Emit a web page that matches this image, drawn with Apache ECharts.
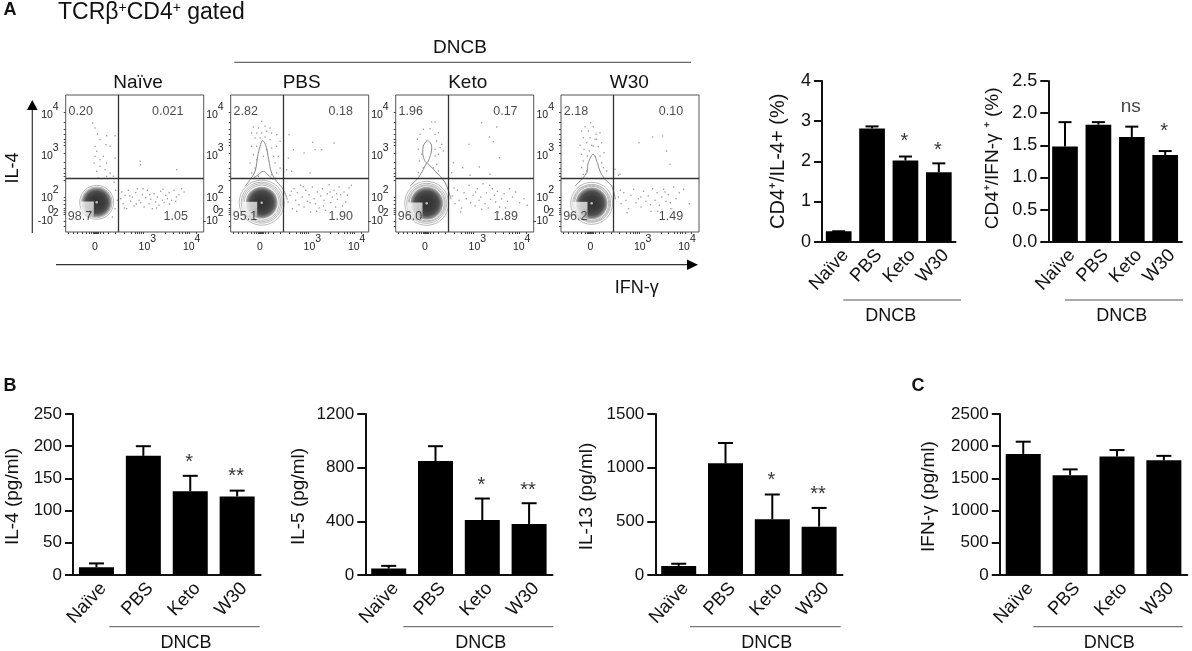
<!DOCTYPE html>
<html><head><meta charset="utf-8">
<style>html,body{margin:0;padding:0;background:#fff}#c{width:1192px;height:651px}</style>
<script src="https://cdn.jsdelivr.net/npm/echarts@6/dist/echarts.min.js"></script>
</head><body><div id="c"></div>
<script>
// ---------- bar data ----------
const categories = ['Naïve','PBS','Keto','W30'];
const il4PctMean = [0.26,2.82,2.02,1.73];
const il4PctUpper = [0.26,2.87,2.12,1.95];
const ifnPctMean = [1.48,1.82,1.63,1.35];
const ifnPctUpper = [1.86,1.86,1.79,1.41];
const il4Mean = [12,185,130,122];
const il4Upper = [18,200,154,131];
const il5Mean = [48,850,410,380];
const il5Upper = [68,960,570,535];
const il13Mean = [85,1040,520,450];
const il13Upper = [105,1230,750,625];
const ifnMean = [1880,1550,1840,1780];
const ifnUpper = [2070,1640,1940,1850];
// significance marks: [category index, height on value axis, text]
const il4PctMarks = [[2,2.59,'*'],[3,2.35,'*']];
const ifnPctMarks = [[2,2.10,'ns'],[3,1.77,'*']];
const il4Marks = [[2,180,'*'],[3,159,'**']];
const il5Marks = [[2,695,'*'],[3,658,'**']];
const il13Marks = [[2,916,'*'],[3,785,'**']];

// ---------- flow cytometry data, in display channels ----------
const flowPanels = ['Naïve','PBS','Keto','W30'];
const naiveQuadrants = ['0.20','0.021','1.05','98.7'];
const pbsQuadrants = ['2.82','0.18','1.90','95.1'];
const ketoQuadrants = ['1.96','0.17','1.89','96.0'];
const w30Quadrants = ['2.18','0.10','1.49','96.2'];
const gateX = 157, gateY = 161;
const naiveDots = [[81,327],[88,312],[95,294],[123,289],[148,289],[103,277],[121,262],[88,257],[133,257],[93,242],[88,227],[113,227],[103,217],[85,207],[123,207],[148,222],[103,197],[118,187],[93,182],[133,177],[123,167],[143,167],[98,162],[223,212],[225,202],[333,187],[165,100],[172,85],[178,110],[183,70],[188,125],[195,92],[200,105],[205,78],[210,118],[215,130],[220,95],[225,88],[230,112],[235,75],[240,103],[245,125],[250,85],[255,98],[260,70],[265,115],[270,90],[275,105],[280,80],[285,122],[290,95],[295,88],[300,110],[305,100],[310,118],[318,95],[325,125],[332,105],[340,112],[348,130],[355,120],[168,120],[176,72],[192,108],[212,84],[232,130],[252,112],[272,72],[292,128],[312,84],[330,92],[150,125],[155,95],[148,70],[140,45],[145,150]];
const pbsDots = [[93,332],[68,315],[83,312],[103,317],[118,312],[63,297],[78,297],[93,297],[108,302],[123,297],[138,292],[73,282],[88,282],[103,285],[118,277],[148,272],[63,257],[78,257],[123,252],[138,257],[68,232],[78,217],[128,227],[143,227],[58,207],[73,192],[133,207],[148,192],[63,177],[138,177],[123,172],[83,167],[108,247],[98,227],[175,292],[188,247],[173,222],[220,237],[246,269],[310,267],[253,247],[273,247],[183,182],[238,177],[168,187],[172,90],[178,110],[185,70],[190,130],[195,95],[200,118],[205,82],[210,140],[215,105],[220,75],[225,125],[230,92],[235,112],[240,60],[245,135],[250,100],[255,85],[260,120],[265,72],[270,108],[275,130],[280,95],[285,65],[290,115],[295,142],[300,88],[305,105],[310,125],[315,75],[320,98],[325,135],[330,112],[340,120],[345,90],[355,132],[362,140],[182,122],[198,62],[218,136],[238,88],[258,62],[278,78],[298,120],[318,115],[335,78],[350,110]];
const ketoDots = [[108,330],[118,330],[83,308],[103,310],[73,293],[118,293],[128,298],[65,278],[123,273],[138,263],[68,248],[118,248],[133,253],[78,233],[118,228],[128,233],[71,213],[123,203],[83,193],[113,193],[68,178],[128,183],[143,243],[258,328],[303,315],[281,285],[220,263],[293,271],[311,223],[173,208],[201,193],[251,195],[168,178],[283,173],[223,170],[170,108],[178,85],[185,125],[190,95],[198,72],[205,118],[212,100],[220,140],[225,88],[232,110],[238,78],[245,130],[250,95],[255,105],[262,145],[268,85],[272,118],[278,72],[285,98],[290,130],[296,110],[300,90],[305,122],[312,75],[318,100],[325,115],[335,92],[342,130],[350,105],[360,120],[372,88],[385,100],[395,80],[175,132],[195,60],[240,120],[258,68],[282,140],[308,60],[330,72]];
const w30Dots = [[89,328],[72,316],[97,316],[62,303],[82,303],[105,293],[117,298],[67,283],[87,283],[102,278],[122,268],[77,268],[57,260],[92,260],[112,256],[69,248],[85,243],[129,238],[62,233],[79,228],[117,228],[122,208],[67,213],[62,193],[127,193],[77,183],[137,183],[67,173],[107,278],[97,258],[234,268],[275,285],[305,288],[317,243],[327,203],[172,170],[177,173],[162,188],[172,105],[180,85],[188,118],[195,95],[203,70],[210,110],[218,128],[225,88],[232,100],[240,75],[248,122],[255,92],[262,108],[270,62],[275,130],[282,95],[288,118],[295,80],[302,105],[308,128],[315,92],[322,112],[330,70],[338,135],[345,100],[355,118],[368,128],[385,85],[178,125],[198,58],[240,105],[268,82],[290,62],[312,120],[328,88]];
const naiveContours = [];
const pbsContours = [
 [[43,137],[58,157],[73,182],[81,227],[88,257],[96,274],[106,257],[114,217],[123,177],[138,152],[158,127],[170,97]],
 [[68,162],[83,172],[98,182],[111,172],[128,157]]];
const ketoContours = [
 [[95,276],[83,258],[81,238],[93,208],[105,233],[108,258],[95,276]],
 [[43,138],[68,163],[88,198],[93,208]],
 [[93,208],[118,183],[148,148],[166,98]]];
const w30Contours = [
 [[42,138],[57,153],[77,178],[82,208],[97,233],[109,208],[117,183],[132,158],[152,138],[163,98]]];
// centre of the dense population and its cut-away quadrant, in channels
const naiveCore = [93,89], pbsCore = [93,88], ketoCore = [93,86], w30Core = [92,86];
const naiveCut = [65,69], pbsCut = [57,68], ketoCut = [58,66], w30Cut = [57,68];

// tick positions on the channel scale
const xTickChannels = [8,22,36,50,62,72,78,82,85,88,91,94,98,104,114,128,150,176,196,208,216,222,228,234,300,322,340,350,358,364,372,392];
const yTickChannels = [360,330,308,292,278,268,260,236,210,190,176,166,156,105,96,84,72,66,60,52,33,18];
const xLabelChannels = {88:'{z|0}',245:'{b|10}{s|3}',378:'{b|10}{s|4}'};
const yLabelChannels = {353:'{b|10}{s|4}',231:'{b|10}{s|3}',106:'{b|10}{s|2}',36:'{b|-10}{s|2}'};

const ink = '#111';
const font = 'Liberation Sans';
const grid = [], xAxis = [], yAxis = [], series = [], graphic = [];

function text(str, x, y, size, extra) {
  graphic.push({type:'text', silent:true, x, y, style:Object.assign({text:str, fill:ink, font:`${size}px "${font}"`, align:'center', verticalAlign:'middle'}, extra||{})});
}
function rule(x1,x2,y,color,w){
  graphic.push({type:'line', silent:true, shape:{x1,y1:y,x2,y2:y}, style:{stroke:color,lineWidth:w}});
}

function barPanel(o){
  const idx = grid.length;
  grid.push({left:o.left, width:o.width, top:o.top, height:o.height, containLabel:false});
  xAxis.push({type:'category', gridIndex:idx, data:categories, boundaryGap:true,
    axisLine:{lineStyle:{color:ink,width:2}}, axisTick:{alignWithLabel:true,length:6,lineStyle:{color:ink,width:2}},
    axisLabel:{rotate:47, interval:0, margin:4, verticalAlign:'top', align:'right', color:ink, fontFamily:font, fontSize:18.5}, splitLine:{show:false}});
  yAxis.push({type:'value', gridIndex:idx, min:0, max:o.max, interval:o.interval,
    name:o.name, nameLocation:'middle', nameGap:o.nameGap, nameTextStyle:{color:ink,fontFamily:font,fontSize:o.nameFont||19,padding:o.namePad||[0,4,0,0]},
    axisLine:{show:true,onZero:false,lineStyle:{color:ink,width:2}}, axisTick:{show:true,length:8,lineStyle:{color:ink,width:2}},
    axisLabel:{margin:11,color:ink,fontFamily:font,fontSize:o.yFont||17,formatter:o.fmt||(v=>String(v))}, splitLine:{show:false}});
  series.push({type:'bar', xAxisIndex:idx, yAxisIndex:idx, data:o.mean, barWidth:o.barW, itemStyle:{color:'#000'}, silent:true, z:3});
  series.push({type:'custom', xAxisIndex:idx, yAxisIndex:idx, silent:true, z:2, clip:false,
    data:o.mean.map((m,i)=>[i,m,o.upper[i]]), encode:{x:0,y:2},
    renderItem(p,api){
      const i=api.value(0), a=api.coord([i,api.value(1)]), b=api.coord([i,api.value(2)]);
      const st={stroke:'#000',lineWidth:2};
      return {type:'group',children:[
        {type:'line',shape:{x1:a[0],y1:a[1],x2:b[0],y2:b[1]},style:st},
        {type:'line',shape:{x1:b[0]-o.cap/2,y1:b[1],x2:b[0]+o.cap/2,y2:b[1]},style:st}]};
    }});
  if(o.marks) series.push({type:'scatter', xAxisIndex:idx, yAxisIndex:idx, silent:true, symbolSize:1, itemStyle:{color:'transparent'},
    data:o.marks, z:5,
    label:{show:true, position:'inside', formatter:p=>(p.data[2]==='ns'?'{n|ns}':'{t|'+p.data[2]+'}'), color:ink, fontFamily:font,
      rich:{n:{fontSize:19,fontFamily:font,color:ink},t:{fontSize:20,fontFamily:font,color:'#000',padding:[7,0,0,0]}}, offset:[-1,0]}});
  rule(o.brX1,o.brX2,o.brY,'#555',1);
  text('DNCB',o.brText,o.brY+16,18);
}

const flowLefts = [65.7,230.7,395.7,561];
const flowTitles = [138,301.7,467.7,629.3];
const flowSets = [
 {dots:naiveDots,q:naiveQuadrants,cont:naiveContours,core:naiveCore,cut:naiveCut,cutW:13,rings:[34,31],blob:30,urX:306},
 {dots:pbsDots,q:pbsQuadrants,cont:pbsContours,core:pbsCore,cut:pbsCut,cutW:15,rings:[45,41,38,35],blob:32,urX:330},
 {dots:ketoDots,q:ketoQuadrants,cont:ketoContours,core:ketoCore,cut:ketoCut,cutW:15,rings:[44,40,37,35],blob:33,urX:329},
 {dots:w30Dots,q:w30Quadrants,cont:w30Contours,core:w30Core,cut:w30Cut,cutW:15,rings:[42,38,36,34],blob:32,urX:330}];

flowSets.forEach((f,k)=>{
  const idx = grid.length;
  grid.push({left:flowLefts[k], width:138, top:95, height:137, show:true, borderColor:'#555', borderWidth:1, backgroundColor:'#fff'});
  const tick = {fontSize:10.5,fontFamily:font,color:'#222',verticalAlign:'bottom',lineHeight:13};
  const rich = {b:tick, s:Object.assign({},tick,{padding:[0,0,8,0]}), z:Object.assign({},tick,{padding:[8,0,0,0]})};
  xAxis.push({type:'value', gridIndex:idx, min:0, max:414, position:'bottom', splitLine:{show:false},
    axisLine:{show:false}, axisTick:{show:true,length:2,customValues:xTickChannels,lineStyle:{color:'#444',width:1}},
    axisLabel:{show:true,margin:8,showMinLabel:true,showMaxLabel:true,customValues:Object.keys(xLabelChannels).map(Number),formatter:v=>xLabelChannels[v],rich}});
  yAxis.push({type:'value', gridIndex:idx, min:0, max:411, position:'left', splitLine:{show:false},
    axisLine:{show:false}, axisTick:{show:true,length:2,customValues:yTickChannels,lineStyle:{color:'#444',width:1}},
    axisLabel:{show:true,margin:7,showMinLabel:true,showMaxLabel:true,customValues:Object.keys(yLabelChannels).map(Number),formatter:v=>yLabelChannels[v],rich}});
  const base={xAxisIndex:idx,yAxisIndex:idx,silent:true};
  series.push(Object.assign({},base,{type:'scatter',symbolSize:1.5,itemStyle:{color:'#777'},data:f.dots,z:2,
    markLine:{silent:true,symbol:'none',label:{show:false},lineStyle:{color:'#333',type:'solid',width:1.3},
      data:[{xAxis:gateX},{yAxis:gateY}],z:6}}));
  f.cont.forEach(c=>series.push(Object.assign({},base,{type:'line',data:c,smooth:0.4,showSymbol:false,
    lineStyle:{color:'#888',width:1},z:3})));
  f.rings.forEach((r,i)=>series.push(Object.assign({},base,{type:'scatter',data:[f.core],symbolSize:r,
    itemStyle:{color:'#fff',borderColor:'#999',borderWidth:0.7,opacity:1},z:3})));
  series.push(Object.assign({},base,{type:'scatter',data:[f.core],symbolSize:f.blob,z:4,
    itemStyle:{color:{type:'radial',x:.5,y:.5,r:.5,colorStops:[
      {offset:0,color:'#222'},{offset:.1,color:'#000'},{offset:.5,color:'#0c0c0c'},{offset:.74,color:'#222'},{offset:.9,color:'#666'},{offset:1,color:'#aaa'}]}}}));
  series.push(Object.assign({},base,{type:'scatter',data:[f.core],symbolSize:2.5,z:5,itemStyle:{color:'#ddd'}}));
  series.push(Object.assign({},base,{type:'scatter',data:[f.cut],symbol:'rect',symbolSize:[f.cutW,15],z:5,
    itemStyle:{color:{type:'linear',x:0,y:0,x2:1,y2:1,colorStops:[{offset:0,color:'#fff'},{offset:.6,color:'#e8e8e8'},{offset:1,color:'#bbb'}]}}}));
  // quadrant frequencies
  const qPos=[[45,361],[f.urX,361],[330,46],[43,46]];
  series.push(Object.assign({},base,{type:'scatter',symbolSize:1,itemStyle:{color:'transparent'},z:7,
    data:f.q.map((t,i)=>[qPos[i][0],qPos[i][1],t]),
    label:{show:true,position:'inside',formatter:p=>p.data[2],color:'#1c1c1c',fontFamily:font,fontSize:12.5}}));
  text(flowPanels[k],flowTitles[k],83,19);
  text('0',flowLefts[k]-14.7,210,10.5,{fill:'#222'});
});

barPanel({left:822,width:133.5,top:81,height:160.7,max:4,interval:1,name:'CD4⁺/IL-4+ (%)',nameGap:34,namePad:[0,0,0,0],mean:il4PctMean,upper:il4PctUpper,marks:il4PctMarks,barW:25.7,cap:13,brX1:843.3,brX2:961,brY:300,brText:890.7,yFont:18,nameFont:20});
barPanel({left:1048.3,width:133.6,top:81,height:160.7,max:2.5,interval:0.5,name:'CD4⁺/IFN-γ ⁺ (%)',nameGap:46,namePad:[0,0,0,6],fmt:v=>v.toFixed(1),mean:ifnPctMean,upper:ifnPctUpper,marks:ifnPctMarks,barW:25.7,cap:13,brX1:1065,brX2:1183,brY:300,brText:1121.7,yFont:18,nameFont:19});
barPanel({left:73,width:187.6,top:414,height:161,max:250,interval:50,name:'IL-4 (pg/ml)',nameGap:51,mean:il4Mean,upper:il4Upper,marks:il4Marks,barW:35,cap:15,brX1:109.3,brX2:259.7,brY:626.7,brText:186});
barPanel({left:365.3,width:187.2,top:414,height:161,max:1200,interval:400,name:'IL-5 (pg/ml)',nameGap:57,mean:il5Mean,upper:il5Upper,marks:il5Marks,barW:35,cap:15,brX1:403.3,brX2:553.3,brY:626.7,brText:480.7});
barPanel({left:655.3,width:187.2,top:414,height:161,max:1500,interval:500,name:'IL-13 (pg/ml)',nameGap:59,mean:il13Mean,upper:il13Upper,marks:il13Marks,barW:35,cap:15,brX1:690,brX2:840.7,brY:626.7,brText:766.7});
barPanel({left:999.8,width:187.5,top:414,height:161,max:2500,interval:500,name:'IFN-γ (pg/ml)',nameGap:62,mean:ifnMean,upper:ifnUpper,barW:35,cap:15,brX1:1033.3,brX2:1182.7,brY:626.7,brText:1109.3});

// panel headings and flow annotations
text('A',10,10,18,{font:`bold 18px "${font}"`});
text('B',10,386,18,{font:`bold 18px "${font}"`});
text('C',918,386,18,{font:`bold 18px "${font}"`});
graphic.push({type:'text',silent:true,x:58,y:13,style:{text:'TCRβ{u|+}CD4{u|+} gated',fill:ink,font:`23px "${font}"`,align:'left',verticalAlign:'middle',
  rich:{u:{fontSize:14,fontFamily:font,fill:ink,verticalAlign:'top',padding:[0,0,9,0]}}}});
text('DNCB',460,48,19);
rule(234.3,691,62.3,'#444',1);
rule(56,690,264.7,'#333',1.2);
graphic.push({type:'polygon',silent:true,shape:{points:[[687,259.5],[698,264.7],[687,270]]},style:{fill:'#000'}});
graphic.push({type:'line',silent:true,shape:{x1:32.3,y1:233,x2:32.3,y2:108},style:{stroke:'#333',lineWidth:1.2}});
graphic.push({type:'polygon',silent:true,shape:{points:[[27,110],[32.3,100],[37.6,110]]},style:{fill:'#000'}});
text('IL-4',13,168,18,{});
graphic[graphic.length-1].rotation=Math.PI/2;
text('IFN-γ',636.7,288,18);

const chart = echarts.init(document.getElementById('c'));
chart.setOption({animation:false, backgroundColor:'#fff', textStyle:{fontFamily:font}, grid, xAxis, yAxis, series, graphic:{elements:graphic}, tooltip:{show:false}, legend:{show:false}});
</script></body></html>
